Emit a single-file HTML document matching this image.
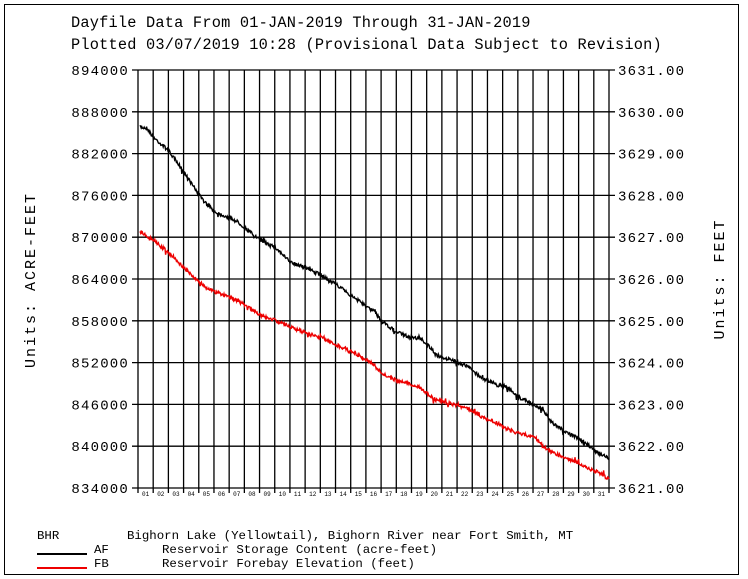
<!DOCTYPE html>
<html><head><meta charset="utf-8"><style>
body{margin:0;background:#fff;}
svg{display:block;}
text{font-family:"Liberation Mono",monospace;fill:#000;}
</style></head><body>
<svg id="s" width="748" height="579" xmlns="http://www.w3.org/2000/svg">
<rect x="4.5" y="4.5" width="734" height="570" fill="none" stroke="#000" stroke-width="1"/>
<text x="71" y="27" font-size="15.3" letter-spacing="0.2">Dayfile Data From 01-JAN-2019 Through 31-JAN-2019</text>
<text x="71" y="49" font-size="15.3" letter-spacing="0.2">Plotted 03/07/2019 10:28 (Provisional Data Subject to Revision)</text>
<g id="grid" stroke="#000" stroke-width="1.3"></g>
<g id="lab"></g>
<text transform="translate(35,280) rotate(-90)" font-size="15" letter-spacing="2" text-anchor="middle">Units: ACRE-FEET</text>
<text transform="translate(724,279) rotate(-90)" font-size="15" letter-spacing="2" text-anchor="middle">Units: FEET</text>
<text x="37" y="539" font-size="12.4">BHR</text>
<text x="127" y="539" font-size="12.4">Bighorn Lake (Yellowtail), Bighorn River near Fort Smith, MT</text>
<line x1="37" y1="554" x2="87" y2="554" stroke="#000" stroke-width="2"/>
<text x="94" y="553" font-size="12.4">AF</text>
<text x="162" y="553" font-size="12.4">Reservoir Storage Content (acre-feet)</text>
<line x1="37" y1="568" x2="87" y2="568" stroke="#e00" stroke-width="2"/>
<text x="94" y="567" font-size="12.4">FB</text>
<text x="162" y="567" font-size="12.4">Reservoir Forebay Elevation (feet)</text>
<path id="pb" fill="none" stroke="#000" stroke-width="1.4"/>
<path id="pr" fill="none" stroke="#e00" stroke-width="1.4"/>
</svg>
<script>
var NS="http://www.w3.org/2000/svg",g=document.getElementById("grid"),lab=document.getElementById("lab");
function el(p,t,a,txt){var e=document.createElementNS(NS,t);for(var k in a)e.setAttribute(k,a[k]);if(txt)e.textContent=txt;p.appendChild(e);}
var L=138,R=609,T=70,B=488,dx=(R-L)/31,dy=(B-T)/10;
for(var i=0;i<=31;i++){var x=L+i*dx;el(g,"line",{x1:x,y1:T,x2:x,y2:B+5});}
for(var i=0;i<31;i++){var d=(i+1<10?"0":"")+(i+1);el(lab,"text",{x:L+i*dx+dx/2,y:496,"font-size":"6","text-anchor":"middle"},d);}
for(var k=0;k<=10;k++){var y=T+k*dy;el(g,"line",{x1:L-6,y1:y,x2:R+6,y2:y});
el(lab,"text",{x:129,y:y+5,"font-size":"14","letter-spacing":"1.2","text-anchor":"end"},String(894000-k*6000));
el(lab,"text",{x:618,y:y+5,"font-size":"14","letter-spacing":"1.2"},(3631-k).toFixed(2));}
var bp=[[140,127],[147,128],[153,137],[168,150],[184,172],[199,195],[207,205],[215,212],[230,218],[238,222],[245,228],[260,240],[275,247],[290,262],[306,268],[321,275],[337,285],[352,296],[367,307],[375,312],[382,322],[398,333],[413,338],[421,339],[428,345],[436,355],[451,360],[467,366],[482,378],[497,385],[505,386],[520,398],[535,405],[543,410],[551,422],[566,432],[581,440],[597,452],[609,458]];
var rp=[[140,231],[147,236],[153,240],[168,252],[184,268],[199,282],[207,288],[215,292],[230,297],[238,301],[245,305],[260,315],[275,320],[290,327],[306,333],[321,338],[337,345],[352,352],[367,360],[375,366],[382,374],[398,381],[413,385],[421,388],[428,394],[436,400],[451,404],[467,408],[482,417],[497,423],[505,428],[520,434],[535,437],[543,446],[551,452],[566,458],[581,465],[597,472],[609,479]];
var seed=7;function rnd(){seed=(seed*16807)%2147483647;return seed/2147483647-0.5;}
function mk(pts){var d="";for(var j=0;j<pts.length-1;j++){var a=pts[j],b=pts[j+1];for(var x=a[0];x<b[0];x+=0.6){var y=a[1]+(b[1]-a[1])*(x-a[0])/(b[0]-a[0])+rnd()*3.5+(rnd()>0.45?rnd()*8:0);d+=(d?"L":"M")+x.toFixed(1)+","+y.toFixed(1);}}var l=pts[pts.length-1];return d+"L"+l[0]+","+l[1];}
document.getElementById("pb").setAttribute("d",mk(bp));
document.getElementById("pr").setAttribute("d",mk(rp));
</script>
</body></html>
